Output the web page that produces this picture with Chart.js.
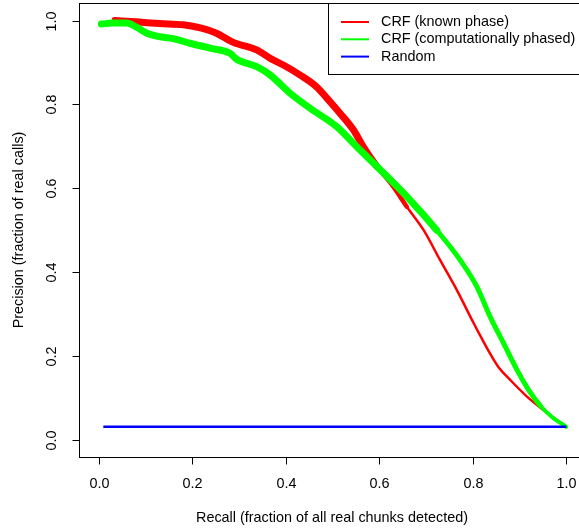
<!DOCTYPE html>
<html lang="en">
<head>
    <meta charset="UTF-8">
    <title>Precision / Recall</title>
    <script src="https://cdn.jsdelivr.net/npm/chart.js"></script>
    <style>
        html, body { margin: 0; padding: 0; background: #fff; overflow: hidden; }
        #wrap { position: absolute; left: 0; top: 0; width: 590px; height: 529px; }
    </style>
</head>
<body>
    <div id="wrap"><canvas id="prChart" width="590" height="529"></canvas></div>

    <script>
        // values
        const knownX = [0.035, 0.08, 0.13, 0.181, 0.22, 0.252, 0.288, 0.338, 0.367, 0.395, 0.431, 0.466, 0.488, 0.516, 0.545, 0.566, 0.595, 0.630, 0.659, 0.695, 0.730, 0.766, 0.802, 0.820, 0.840, 0.856, 0.880, 0.916, 0.951, 1.0];
        const knownY = [1.0, 0.997, 0.993, 0.990, 0.982, 0.970, 0.948, 0.930, 0.910, 0.894, 0.870, 0.842, 0.815, 0.779, 0.739, 0.699, 0.652, 0.604, 0.556, 0.500, 0.429, 0.357, 0.278, 0.240, 0.200, 0.172, 0.143, 0.103, 0.071, 0.031];

        const phasedX = [0.006, 0.03, 0.06, 0.08, 0.103, 0.124, 0.16, 0.195, 0.24, 0.281, 0.295, 0.338, 0.367, 0.409, 0.452, 0.509, 0.552, 0.595, 0.666, 0.723, 0.773, 0.809, 0.837, 0.866, 0.894, 0.920, 0.944, 0.970, 1.0];
        const phasedY = [0.992, 0.994, 0.994, 0.985, 0.970, 0.963, 0.957, 0.946, 0.934, 0.922, 0.908, 0.890, 0.870, 0.827, 0.791, 0.747, 0.699, 0.652, 0.572, 0.500, 0.429, 0.365, 0.294, 0.230, 0.168, 0.118, 0.082, 0.054, 0.031];

        const randomX = [0.01, 1.0];
        const randomY = [0.031, 0.031];

        const xTicks = [0, 0.2, 0.4, 0.6, 0.8, 1.0];
        const yTicks = [0, 0.2, 0.4, 0.6, 0.8, 1.0];
        const tickLabels = ['0.0', '0.2', '0.4', '0.6', '0.8', '1.0'];

        const seriesNames = ['CRF (known phase)', 'CRF (computationally phased)', 'Random'];
        const seriesColors = ['#ff0000', '#00ff00', '#0000ff'];

        const FONT = '14.4px "Liberation Sans", Arial, sans-serif';

        function toPoints(xs, ys) {
            return xs.map((x, i) => ({ x: x, y: ys[i] }));
        }

        // R style frame, axes, titles and legend
        const rFrame = {
            id: 'rFrame',
            afterDraw(chart) {
                const ctx = chart.ctx;
                const a = chart.chartArea;
                const xs = chart.scales.x;
                const ys = chart.scales.y;
                ctx.save();
                ctx.strokeStyle = '#000';
                ctx.fillStyle = '#000';
                ctx.lineWidth = 1;

                // box
                ctx.strokeRect(Math.round(a.left) + 0.5, Math.round(a.top) + 0.5,
                    Math.round(a.right - a.left), Math.round(a.bottom - a.top));

                ctx.font = FONT;

                // x axis ticks + labels
                const by = Math.round(a.bottom) + 0.5;
                ctx.textAlign = 'center';
                ctx.textBaseline = 'middle';
                xTicks.forEach((v, i) => {
                    const px = Math.round(xs.getPixelForValue(v)) + 0.5;
                    ctx.beginPath();
                    ctx.moveTo(px, by);
                    ctx.lineTo(px, by + 7);
                    ctx.stroke();
                    ctx.fillText(tickLabels[i], px, 484);
                });

                // y axis ticks + rotated labels
                const lx = Math.round(a.left) + 0.5;
                yTicks.forEach((v, i) => {
                    const py = Math.round(ys.getPixelForValue(v)) + 0.5;
                    ctx.beginPath();
                    ctx.moveTo(lx, py);
                    ctx.lineTo(lx - 7, py);
                    ctx.stroke();
                    ctx.save();
                    ctx.translate(52, py);
                    ctx.rotate(-Math.PI / 2);
                    ctx.fillText(tickLabels[i], 0, 0);
                    ctx.restore();
                });

                // axis titles
                ctx.fillText('Recall (fraction of all real chunks detected)', (a.left + a.right) / 2, 518);
                ctx.save();
                ctx.translate(19, (a.top + a.bottom) / 2);
                ctx.rotate(-Math.PI / 2);
                ctx.fillText('Precision (fraction of real calls)', 0, 0);
                ctx.restore();

                // legend
                ctx.fillStyle = '#fff';
                ctx.fillRect(328.5, 3.5, 300, 71);
                ctx.strokeStyle = '#000';
                ctx.strokeRect(328.5, 3.5, 300, 71);
                ctx.textAlign = 'left';
                seriesNames.forEach((name, i) => {
                    const yy = 22 + i * 17.3;
                    ctx.strokeStyle = seriesColors[i];
                    ctx.lineWidth = 2;
                    ctx.beginPath();
                    ctx.moveTo(341, yy);
                    ctx.lineTo(369, yy);
                    ctx.stroke();
                    ctx.fillStyle = '#000';
                    ctx.fillText(name, 381, yy);
                });
                ctx.restore();
            }
        };

        const ctx = document.getElementById('prChart').getContext('2d');
        new Chart(ctx, {
            type: 'line',
            data: {
                datasets: [
                    {
                        label: seriesNames[2],
                        data: toPoints(randomX, randomY),
                        borderColor: seriesColors[2],
                        borderWidth: 2.5,
                        pointRadius: 0
                    },
                    {
                        label: seriesNames[1],
                        data: toPoints(phasedX, phasedY),
                        borderColor: seriesColors[1],
                        borderWidth: 7,
                        pointRadius: 0,
                        cubicInterpolationMode: 'monotone',
                        borderCapStyle: 'round',
                        borderJoinStyle: 'round',
                        segment: {
                            borderWidth: c => c.p0.parsed.x < 0.7 ? 7 : (c.p0.parsed.x < 0.93 ? 5 : 4)
                        }
                    },
                    {
                        label: seriesNames[0],
                        data: toPoints(knownX, knownY),
                        borderColor: seriesColors[0],
                        borderWidth: 7,
                        pointRadius: 0,
                        cubicInterpolationMode: 'monotone',
                        borderCapStyle: 'round',
                        borderJoinStyle: 'round',
                        segment: {
                            borderWidth: c => c.p0.parsed.x < 0.58 ? 7 : (c.p0.parsed.x < 0.65 ? 4.5 : 2.5)
                        }
                    }
                ]
            },
            options: {
                responsive: false,
                animation: false,
                devicePixelRatio: 1,
                layout: { padding: { left: 79, top: 3, right: 5, bottom: 72 } },
                plugins: {
                    legend: { display: false },
                    tooltip: { enabled: false }
                },
                scales: {
                    x: { type: 'linear', min: -0.042, max: 1.04, display: false },
                    y: { type: 'linear', min: -0.041, max: 1.042, display: false }
                }
            },
            plugins: [rFrame]
        });
    </script>
</body>
</html>
